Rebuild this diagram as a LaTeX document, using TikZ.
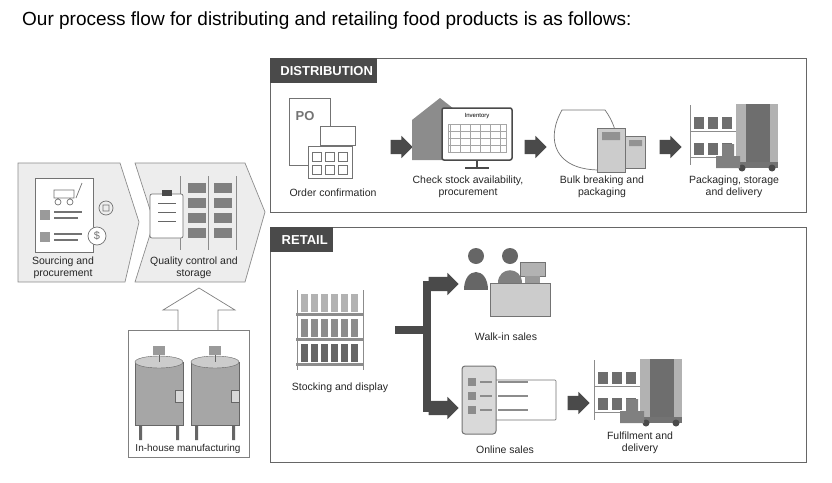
\documentclass[tikz,border=0pt]{standalone}
\usepackage{fontspec}
\setmainfont{Liberation Sans}
\usetikzlibrary{shapes.arrows}
\definecolor{dk}{HTML}{4A4A4A}
\definecolor{lg}{HTML}{EDEDED}
\definecolor{md}{HTML}{9A9A9A}
\begin{document}
\begin{tikzpicture}[x=1pt,y=-1pt,
 lbl/.style={font=\fontsize{10.5}{12}\selectfont,align=center,text=black!85},
 frame/.style={draw=black!60,line width=0.9pt},
 tab/.style={fill=dk,text=white,font=\bfseries\fontsize{13}{14}\selectfont,anchor=north west,inner sep=0pt,minimum height=25,text depth=0pt},
 blk/.style={single arrow,fill=dk,draw=none,inner xsep=0pt,inner ysep=7pt,single arrow head extend=4pt,minimum height=22},
 ico/.style={draw=black!55,line width=0.7pt,fill=white},
 chev/.style={fill=lg,draw=black!45,line width=0.7pt}]
\useasboundingbox (0,0) rectangle (832,482);
\node[anchor=west,font=\fontsize{19}{21}\selectfont,inner sep=0pt] (title) at (22,21) {Our process flow for distributing and retailing food products is as follows:};
% chevrons
\draw[chev] (18,163) -- (120,163) -- (139,222) -- (125,282) -- (18,282) -- cycle;
\draw[chev] (135,163) -- (245,163) -- (265,212) -- (245,282) -- (135,282) -- (154,222) -- cycle;
% icon sourcing
\draw[ico] (35,178) rectangle (93,252);
\fill[md] (40,210) rectangle (50,220); \fill[md] (40,232) rectangle (50,242);
\draw[black!55,line width=1.5pt] (54,212)--(82,212) (54,218)--(78,218) (54,234)--(82,234) (54,240)--(78,240);
\draw[black!55,line width=0.7pt] (54,190) rectangle (74,198) (58,202) circle (3) (70,202) circle (3) (76,198)--(82,183);
\draw[ico] (97,236) circle (9) node[font=\fontsize{11}{11}\selectfont,text=black!55] {\$};
\draw[black!55,line width=0.7pt] (106,208) circle (7) (103,205) rectangle (109,211);
% icon quality
\foreach \r in {0,1,2,3} \foreach \c in {0,1}{\fill[dk!70] (188+\c*26,183+\r*15) rectangle (206+\c*26,193+\r*15);}
\draw[black!45,line width=1pt] (180,176)--(180,250) (208,176)--(208,250) (236,176)--(236,250);
\draw[ico,rounded corners=2] (150,194) rectangle (183,238);
\draw[black!60,line width=0.8pt] (158,203)--(176,203) (158,212)--(176,212) (158,221)--(176,221);
\fill[dk] (162,190) rectangle (172,196);
\node[lbl] (src) at (63,268) {Sourcing and\\procurement};
\node[lbl] (qc) at (194,268) {Quality control and\\storage};
% up arrow
\draw[fill=white,draw=black!50,line width=0.7pt] (178,330) -- (178,310) -- (163,310) -- (199,288) -- (235,310) -- (218,310) -- (218,330);
\draw[fill=white,draw=black!50,line width=0.7pt] (128,330) rectangle (249,457);
\foreach \x in {135,191}{
 \draw[fill=black!35,draw=black!60] (\x,362) rectangle (\x+48,425);
 \draw[fill=black!20,draw=black!60] (\x+24,362) ellipse (24 and 6);
 \fill[md] (\x+18,346) rectangle (\x+30,355); \draw[black!60] (\x+24,355)--(\x+24,362);
 \fill[black!60] (\x+4,425) rectangle (\x+7,440) (\x+41,425) rectangle (\x+44,440);
 \draw[fill=black!15,draw=black!60] (\x+40,390) rectangle (\x+48,402);}
\node[lbl,font=\fontsize{10}{12}\selectfont] (mfg) at (188,449) {In-house manufacturing};
% distribution frame
\draw[frame] (270,58) rectangle (806,212);
\node[tab,minimum width=107] (dist) at (270,58) {\hspace{6pt}DISTRIBUTION\hfill};
% PO icon
\draw[ico] (289,98) rectangle (330,165); \node[text=black!55,font=\bfseries\fontsize{13}{13}\selectfont] (po) at (305,116) {PO};
\draw[ico] (320,126) rectangle (355,145);
\draw[ico] (308,146) rectangle (352,178);
\foreach \x in {312,325,338}{\draw[black!55] (\x,152) rectangle (\x+9,161) (\x,165) rectangle (\x+9,174);}
\node[lbl] (oc) at (333,193) {Order confirmation};
\node[blk] (a1) at (398,147) {};
% inventory icon
\fill[black!45] (412,120) -- (440,98) -- (468,120) -- (468,160) -- (412,160) -- cycle;
\draw[ico,line width=1.5pt,draw=dk,rounded corners=2] (442,108) rectangle (512,160);
\draw[dk,line width=1.5pt] (477,160)--(477,167) (465,168)--(489,168);
\node[font=\fontsize{6}{6}\selectfont] (inv) at (477,116) {Inventory};
\foreach \x in {450,460,...,504}{\draw[black!35] (\x,124)--(\x,152);}
\draw[black!35] (448,124) rectangle (506,152) (448,131)--(506,131) (448,138)--(506,138) (448,145)--(506,145);
\node[lbl] (cs) at (468,187) {Check stock availability,\\procurement};
\node[blk] (a2) at (532,147) {};
% bulk icon
\draw[ico] (562,110) .. controls (545,140) and (555,170) .. (600,170) .. controls (625,165) and (620,130) .. (605,110) -- cycle;
\draw[ico,fill=black!20] (597,128) rectangle (625,172);
\draw[ico,fill=black!20] (625,136) rectangle (645,168);
\fill[dk!60] (602,132) rectangle (620,140) (629,140) rectangle (642,146);
\node[lbl] (bb) at (602,187) {Bulk breaking and\\packaging};
\node[blk] (a3) at (667,147) {};
% packaging/storage icon
\foreach \r in {0,1}\foreach \c in {0,1,2}{\fill[dk!80] (694+\c*14,117+\r*26) rectangle (704+\c*14,129+\r*26);}
\draw[black!45,line width=1pt] (690,105)--(690,165) (738,105)--(738,165) (690,131)--(738,131) (690,157)--(738,157);
\fill[black!30] (736,104) rectangle (778,162); \fill[dk!80] (746,104) rectangle (770,162);
\fill[black!55] (736,162) rectangle (778,168);
\fill[dk] (742,168) circle (3.5) (772,168) circle (3.5);
\fill[dk!70] (722,144) rectangle (734,156) (716,156) rectangle (740,168);
\node[lbl] (ps) at (734,187) {Packaging, storage\\and delivery};
% retail frame
\draw[frame] (270,227) rectangle (806,462);
\node[tab,minimum width=63] (ret) at (270,227) {\hspace{6pt}RETAIL\hfill};
% shelves icon
\foreach \r/\c in {0/black!30,1/black!45,2/black!60}{
 \foreach \k in {0,...,5}{\fill[\c] (301+\k*10,294+\r*25) rectangle (308+\k*10,312+\r*25);}
 \fill[black!45] (296,313+\r*25) rectangle (364,316+\r*25);}
\draw[black!45,line width=1pt] (297,290)--(297,370) (363,290)--(363,370);
\node[lbl] (sd) at (340,388) {Stocking and display};
% branch arrow
\coordinate (bs) at (395,330); \coordinate (bj) at (427,330);
\draw[dk,line width=8pt] (bs) -- (bj);
\draw[dk,line width=8pt] (427,281) -- (427,412);
\node[blk,minimum height=30] (a4) at (440,284) {};
\node[blk,minimum height=30] (a5) at (440,408) {};
% walk-in icon
\fill[black!60] (476,256) circle (8) (510,256) circle (8);
\fill[black!60] (464,290) .. controls (464,266) and (488,266) .. (488,290) -- cycle;
\fill[black!50] (498,283) .. controls (498,266) and (522,266) .. (522,283) -- cycle;
\draw[ico,fill=black!20] (490,283) rectangle (550,316);
\draw[ico,fill=black!30] (520,262) rectangle (545,276); \fill[black!40] (525,276) rectangle (540,283);
\node[lbl] (wi) at (506,337) {Walk-in sales};
% online icon
\draw[ico,rounded corners=1] (480,380) rectangle (556,420);
\draw[ico,fill=black!15,rounded corners=3,line width=1pt] (462,366) rectangle (496,434);
\foreach \y in {378,392,406}{\fill[black!45] (468,\y) rectangle (476,\y+8); \draw[black!45,line width=1.2pt] (480,\y+4)--(492,\y+4); \draw[black!45,line width=1.2pt] (498,\y+4)--(528,\y+4);}
\node[lbl] (os) at (505,450) {Online sales};
\node[blk] (a6) at (575,403) {};
% fulfilment icon
\foreach \r in {0,1}\foreach \c in {0,1,2}{\fill[dk!80] (598+\c*14,372+\r*26) rectangle (608+\c*14,384+\r*26);}
\draw[black!45,line width=1pt] (594,360)--(594,420) (642,360)--(642,420) (594,386)--(642,386) (594,412)--(642,412);
\fill[black!30] (640,359) rectangle (682,417); \fill[dk!80] (650,359) rectangle (674,417);
\fill[black!55] (640,417) rectangle (682,423);
\fill[dk] (646,423) circle (3.5) (676,423) circle (3.5);
\fill[dk!70] (626,399) rectangle (638,411) (620,411) rectangle (644,423);
\node[lbl] (fd) at (640,443) {Fulfilment and\\delivery};
\end{tikzpicture}
\end{document}
